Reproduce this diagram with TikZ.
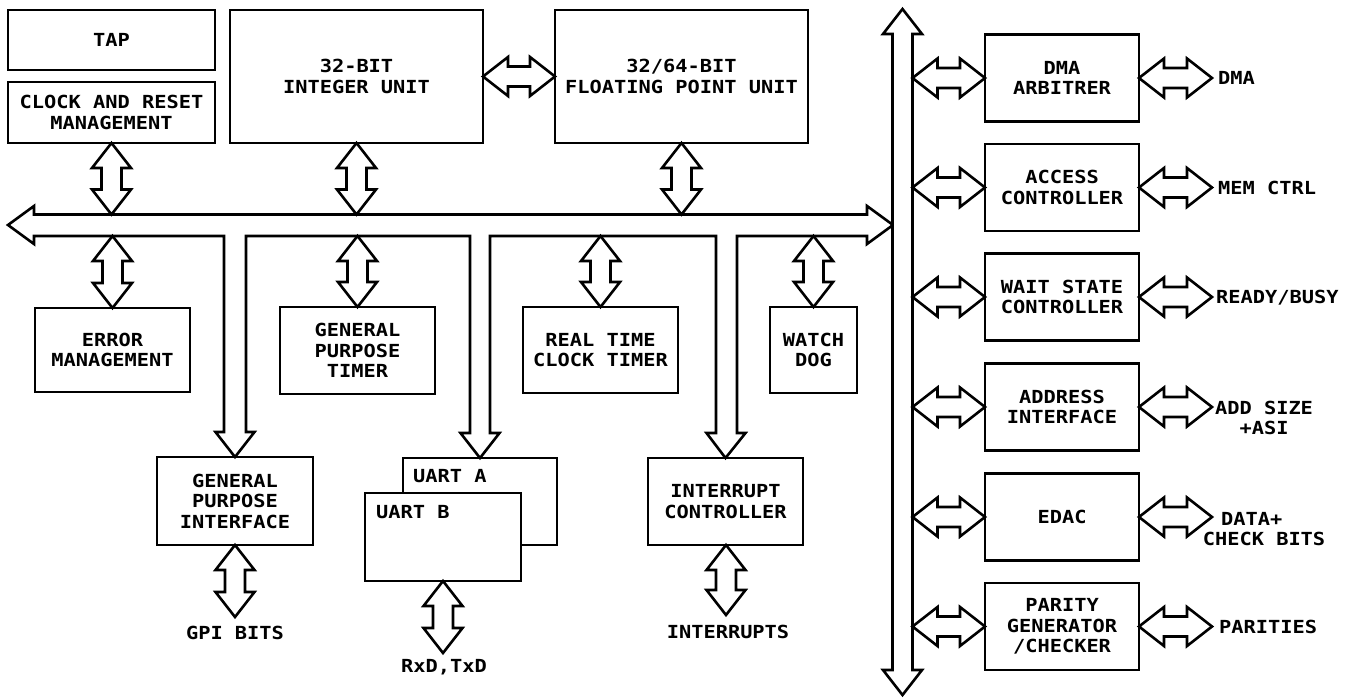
\documentclass[tikz,border=0pt]{standalone}
\usepackage{fontspec}
\newfontfamily\plotfont{DejaVu Sans Mono}[FakeStretch=1.13]
\usetikzlibrary{calc}
\tikzset{
  lw/.style={line width=2.6pt},
  box/.style={lw, draw=black, fill=white, rectangle, outer sep=0pt, inner sep=0pt, align=center,
    font=\plotfont\bfseries\fontsize{18}{20.5}\selectfont},
  lbl/.style={inner sep=0pt, align=center, font=\plotfont\bfseries\fontsize{18}{20.5}\selectfont},
  fat/.style={lw, draw=black, fill=white, line join=miter},
}
\newcommand\vfatarrow[2]{%
  \draw[fat] let \p1=(#1), \p2=(#2) in
    (\x1,\y1) -- (\x1+19.5pt,\y1-25pt) -- (\x1+10pt,\y1-25pt) -- (\x1+10pt,\y2+25pt)
    -- (\x1+19.5pt,\y2+25pt) -- (\x1,\y2) -- (\x1-19.5pt,\y2+25pt) -- (\x1-10pt,\y2+25pt)
    -- (\x1-10pt,\y1-25pt) -- (\x1-19.5pt,\y1-25pt) -- cycle;}
\newcommand\hfatarrow[2]{%
  \draw[fat] let \p1=(#1), \p2=(#2) in
    (\x1,\y1) -- (\x1+25pt,\y1+19.5pt) -- (\x1+25pt,\y1+10pt) -- (\x2-25pt,\y1+10pt)
    -- (\x2-25pt,\y1+19.5pt) -- (\x2,\y1) -- (\x2-25pt,\y1-19.5pt) -- (\x2-25pt,\y1-10pt)
    -- (\x1+25pt,\y1-10pt) -- (\x1+25pt,\y1-19.5pt) -- cycle;}
\begin{document}
\begin{tikzpicture}[x=1pt,y=-1pt]
\useasboundingbox[fill=white] (0,0) rectangle (1356,698);

% ---------- top boxes
\node[box, minimum width=207pt, minimum height=60pt] (tap) at (111.5,40) {TAP};
\node[box, minimum width=207pt, minimum height=61pt] (clk) at (111.5,112.5) {CLOCK AND RESET\\MANAGEMENT};
\node[box, minimum width=253pt, minimum height=133pt] (iu) at (356.5,76.5) {32-BIT\\INTEGER UNIT};
\node[box, minimum width=253pt, minimum height=133pt] (fpu) at (681.5,76.5) {32/64-BIT\\FLOATING POINT UNIT};

% ---------- lower boxes
\node[box, minimum width=155pt, minimum height=84pt] (err) at (112.5,350) {ERROR\\MANAGEMENT};
\node[box, minimum width=155pt, minimum height=87pt] (gpt) at (357.5,350.5) {GENERAL\\PURPOSE\\TIMER};
\node[box, minimum width=155pt, minimum height=86pt] (rtc) at (600.5,350) {REAL TIME\\CLOCK TIMER};
\node[box, minimum width=87pt, minimum height=86pt] (wd) at (813.5,350) {WATCH\\DOG};

\node[box, minimum width=156pt, minimum height=88pt] (gpi) at (235,501) {GENERAL\\PURPOSE\\INTERFACE};
\node[box, minimum width=154pt, minimum height=87pt] (uarta) at (480,501.5) {};
\node[box, minimum width=156pt, minimum height=88pt] (uartb) at (443,537) {};
\node[lbl, anchor=west] (uartatxt) at (413,476) {UART A};
\node[lbl, anchor=west] (uartbtxt) at (376,512) {UART B};
\node[box, minimum width=155pt, minimum height=87pt] (intc) at (725.5,501.5) {INTERRUPT\\CONTROLLER};

% ---------- right column
\foreach \bn/\by/\bt in {dma/78/{DMA\\ARBITRER}, acc/187.5/{ACCESS\\CONTROLLER}, wait/297/{WAIT STATE\\CONTROLLER},
                      addr/407/{ADDRESS\\INTERFACE}, edac/517/{EDAC}, par/626.5/{PARITY\\GENERATOR\\/CHECKER}}
  \node[box, minimum width=154pt, minimum height=87pt] (\bn) at (1062,\by) {\bt};

% ---------- buses
\coordinate (bustop) at (0,214.5);
\coordinate (busbot) at (0,236);
\coordinate (vbus) at (912.5,0);

\draw[fat] (8,225) -- (34,206) -- (34,214.5) -- (867,214.5) -- (867,206) -- (893,225) -- (867,244) -- (867,236)
  -- (737,236) -- (737,433) -- (745.5,433) -- (intc.north) -- (706.5,433) -- (716,433) -- (716,236)
  -- (490,236) -- (490,433) -- (499.5,433) -- (uarta.north) -- (460.5,433) -- (470,433) -- (470,236)
  -- (246,236) -- (246,432) -- (254.5,432) -- (gpi.north) -- (215.5,432) -- (224,432) -- (224,236)
  -- (34,236) -- (34,244) -- cycle;

\draw[fat] (902.5,9) -- (922,34) -- (912.5,34) -- (912.5,670) -- (922,670) -- (902.5,695) -- (883,670)
  -- (892.5,670) -- (892.5,34) -- (883,34) -- cycle;

% ---------- arrows to the horizontal bus
\vfatarrow{clk.south}{clk.south |- bustop}
\vfatarrow{iu.south}{iu.south |- bustop}
\vfatarrow{fpu.south}{fpu.south |- bustop}
\vfatarrow{err.north |- busbot}{err.north}
\vfatarrow{gpt.north |- busbot}{gpt.north}
\vfatarrow{rtc.north |- busbot}{rtc.north}
\vfatarrow{wd.north |- busbot}{wd.north}

\hfatarrow{iu.east}{fpu.west}

% ---------- bottom outputs
\coordinate (gpiend) at (235,617);
\coordinate (rxdend) at (443,653);
\coordinate (intend) at (726,615);
\vfatarrow{gpi.south}{gpiend}
\vfatarrow{uartb.south}{rxdend}
\vfatarrow{intc.south -| intend}{intend}
\node[lbl] (gpibits) at (235,633) {GPI BITS};
\node[lbl] (rxd) at (444,667) {RxD,TxD};
\node[lbl] (ints) at (728,632) {INTERRUPTS};

% ---------- right side arrows
\foreach \bn in {dma,acc,wait,addr,edac,par}{
  \coordinate (\bn in) at (\bn.west -| vbus);
  \coordinate (\bn out) at ([xshift=73pt]\bn.east);
  \hfatarrow{\bn in}{\bn.west}
  \hfatarrow{\bn.east}{\bn out}
}
\node[lbl, anchor=west] (ldma) at (1218,78) {DMA};
\node[lbl, anchor=west] (lmem) at (1218,188) {MEM CTRL};
\node[lbl, anchor=west] (lrdy) at (1216,298) {READY/BUSY};
\node[lbl] (ladd) at (1264,418) {ADD SIZE\\+ASI};
\node[lbl] (ldata) at (1264,529) {DATA+\hphantom{XX}\\CHECK BITS};
\node[lbl, anchor=west] (lpar) at (1219,627) {PARITIES};
\end{tikzpicture}
\end{document}
